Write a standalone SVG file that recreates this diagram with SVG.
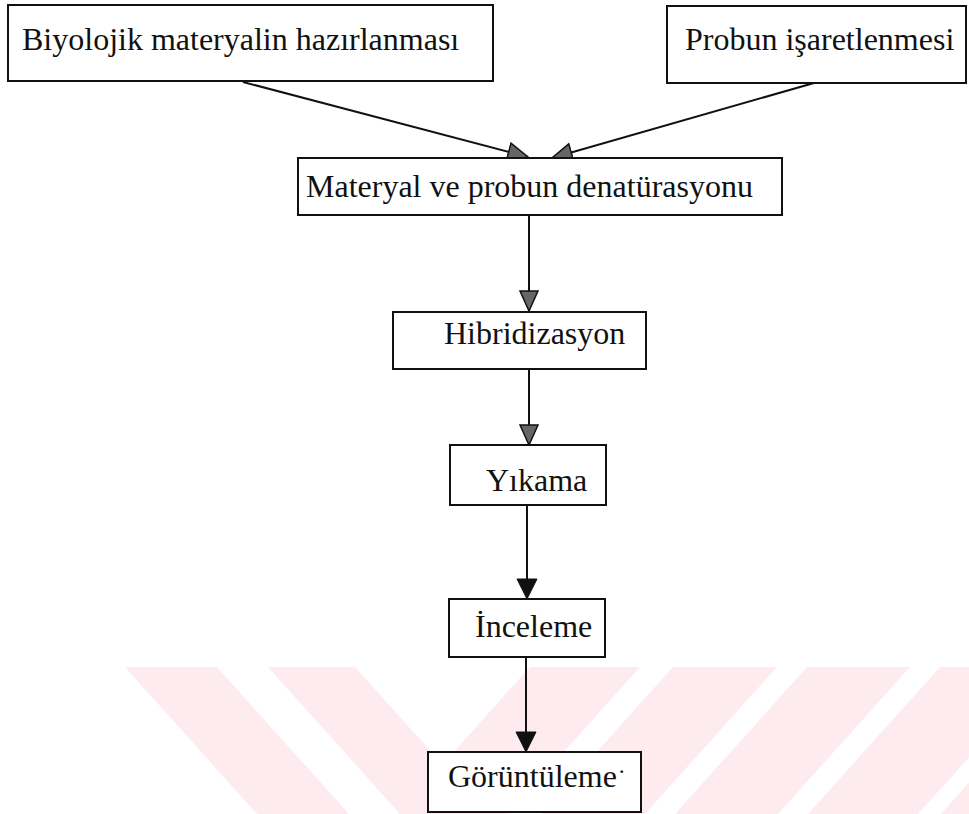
<svg xmlns="http://www.w3.org/2000/svg" width="969" height="814" viewBox="0 0 969 814">
  <defs>
    <style>
      .box { fill: #ffffff; stroke: #111111; stroke-width: 2; }
      .lbl { font-family: "Liberation Serif", "Times New Roman", serif; font-size: 32px; fill: #111111; }
      .conn { stroke: #111111; stroke-width: 2; fill: none; }
      .wm { fill: #fdebef; stroke: none; }
    </style>
    <marker id="arrowGray" markerUnits="userSpaceOnUse" markerWidth="22" markerHeight="22" viewBox="0 0 22 22" refX="21" refY="11" orient="auto">
      <path d="M1,2 L21,11 L1,20 Z" fill="#666666" stroke="#111111" stroke-width="1.5"/>
    </marker>
    <marker id="arrowBlack" markerUnits="userSpaceOnUse" markerWidth="22" markerHeight="22" viewBox="0 0 22 22" refX="21" refY="11" orient="auto">
      <path d="M1,1 L21,11 L1,21 Z" fill="#111111" stroke="#111111" stroke-width="1"/>
    </marker>
  </defs>

  <rect x="0" y="0" width="969" height="814" fill="#ffffff"/>

  <!-- watermark -->
  <g id="watermark">
    <polygon class="wm" points="125,667 217,667 349,814 257,814"/>
    <polygon class="wm" points="268,667 355,667 487,814 400,814"/>
    <polygon class="wm" points="530,667 640,667 508,814 398,814"/>
    <polygon class="wm" points="673,667 777,667 645,814 541,814"/>
    <polygon class="wm" points="807,667 910,667 778,814 675,814"/>
    <polygon class="wm" points="940,667 1050,667 918,814 808,814"/>
    <polygon class="wm" points="1073,667 1183,667 1051,814 941,814"/>
  </g>

  <g id="connectors">
    <line class="conn" x1="243" y1="82" x2="528" y2="157" marker-end="url(#arrowGray)"/>
    <line class="conn" x1="814" y1="83" x2="552" y2="158" marker-end="url(#arrowGray)"/>
    <line class="conn" x1="529" y1="215" x2="529" y2="311" marker-end="url(#arrowGray)"/>
    <line class="conn" x1="529" y1="369" x2="529" y2="445" marker-end="url(#arrowGray)"/>
    <line class="conn" x1="527" y1="505" x2="527" y2="599" marker-end="url(#arrowBlack)"/>
    <line class="conn" x1="526" y1="657" x2="526" y2="752" marker-end="url(#arrowBlack)"/>
  </g>

  <g id="biyolojik">
    <rect class="box" x="8" y="5" width="485" height="76"/>
    <text class="lbl" x="22" y="50">Biyolojik materyalin hazırlanması</text>
  </g>

  <g id="probun">
    <rect class="box" x="667" y="6" width="299" height="77"/>
    <text class="lbl" x="685" y="50">Probun işaretlenmesi</text>
  </g>

  <g id="denaturasyon">
    <rect class="box" x="298" y="158" width="484" height="57"/>
    <text class="lbl" x="306" y="197">Materyal ve probun denatürasyonu</text>
  </g>

  <g id="hibridizasyon">
    <rect class="box" x="393" y="312" width="253" height="57"/>
    <text class="lbl" x="444" y="344">Hibridizasyon</text>
  </g>

  <g id="yikama">
    <rect class="box" x="450" y="445" width="156" height="60"/>
    <text class="lbl" x="486" y="491">Yıkama</text>
  </g>

  <g id="inceleme">
    <rect class="box" x="449" y="599" width="156" height="58"/>
    <text class="lbl" x="475" y="637">İnceleme</text>
  </g>

  <g id="goruntuleme">
    <rect class="box" x="428" y="752" width="213" height="60"/>
    <text class="lbl" x="448" y="787">Görüntüleme<tspan dx="1" dy="-8" font-size="24px">·</tspan></text>
  </g>
</svg>
